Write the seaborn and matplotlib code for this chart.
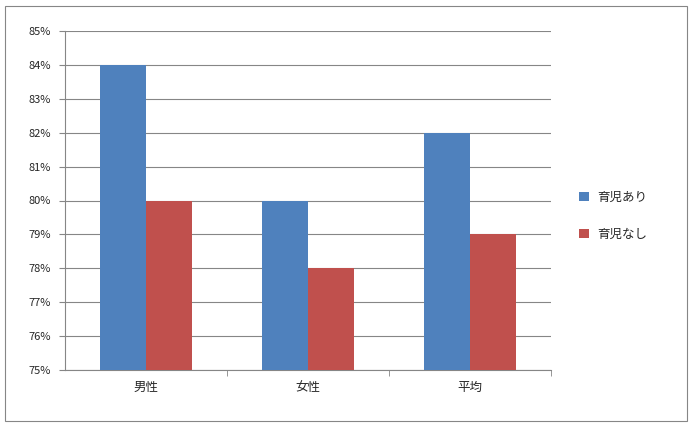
import seaborn as sns
import matplotlib.pyplot as plt
import pandas as pd
from matplotlib.patches import Rectangle
from matplotlib.ticker import PercentFormatter, MultipleLocator

categories = ['男性', '女性', '平均']
series = ['育児あり', '育児なし']
with_child = [0.84, 0.80, 0.82]
without_child = [0.80, 0.78, 0.79]
colors = ['#4F81BD', '#C0504D']

df = pd.DataFrame({
    'category': categories * 2,
    'group': [series[0]] * 3 + [series[1]] * 3,
    'value': with_child + without_child,
})

sns.set_style('white')
plt.rcParams['font.family'] = ['Noto Sans CJK JP', 'DejaVu Sans']

fig = plt.figure(figsize=(6.93, 4.30), dpi=100)
ax = fig.add_axes([65 / 693, 1 - 370 / 430, (551 - 65) / 693, (370 - 31) / 430])

sns.barplot(df, x='category', y='value', hue='group', palette=colors,
            width=0.57, saturation=1, linewidth=0, ax=ax, legend=True, zorder=3)

ax.set_ylim(0.75, 0.85)
ax.yaxis.set_major_locator(MultipleLocator(0.01))
ax.yaxis.set_major_formatter(PercentFormatter(1.0, decimals=0))
ax.grid(axis='y', color='#868686', linewidth=0.8, zorder=0)
ax.set_axisbelow(True)
ax.set_xlabel('')
ax.set_ylabel('')
for s in ['top', 'right']:
    ax.spines[s].set_visible(False)
for s in ['left', 'bottom']:
    ax.spines[s].set_color('#868686')
    ax.spines[s].set_linewidth(0.8)
ax.tick_params(axis='y', labelsize=8, length=4, color='#868686', left=True, pad=6)
ax.tick_params(axis='x', labelsize=9, length=0, pad=8)
# category boundary tick marks
ax.set_xticks([0.5, 1.5, 2.5], minor=True)
ax.tick_params(axis='x', which='minor', length=4, color='#868686', bottom=True)

ax.legend(loc='center left', bbox_to_anchor=(1.035, 0.455), frameon=False,
          fontsize=9, handlelength=0.8, handleheight=0.8, labelspacing=1.9,
          handletextpad=0.6)

fig.patches.append(Rectangle((5 / 693, 9 / 430), 682 / 693, 415 / 430,
                             transform=fig.transFigure, fill=False,
                             edgecolor='#868686', linewidth=0.8))

fig.savefig('out.png', dpi=100)
